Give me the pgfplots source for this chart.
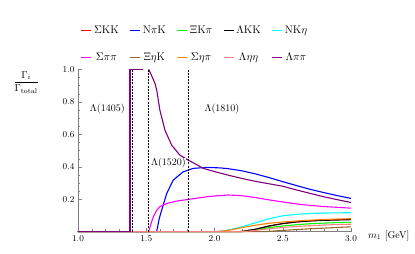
\documentclass[border=0pt]{standalone}
\usepackage{pgfplots}
\pgfplotsset{compat=1.18}
\definecolor{mgreen}{rgb}{0,1,0}
\definecolor{mbrown}{rgb}{0.6,0.4,0.2}
\definecolor{morange}{rgb}{1,0.5,0}
\definecolor{mpink}{rgb}{1,0.5,0.5}
\definecolor{mpurple}{rgb}{0.5,0,0.5}
\definecolor{mcyan}{rgb}{0,1,1}
\definecolor{mmagenta}{rgb}{1,0,1}
\definecolor{mred}{rgb}{1,0,0}
\definecolor{mblue}{rgb}{0,0,1}
\begin{document}
\begin{tikzpicture}
\path[use as bounding box] (0,0) rectangle (415pt,254pt);
\begin{axis}[
  at={(78pt,22.3pt)}, anchor=south west,
  scale only axis, width=273pt, height=162.4pt,
  xmin=1, xmax=3, ymin=0, ymax=1,
  clip=false,
  axis lines=left,
  axis line style={-, gray},
  tick align=inside,
  major tick length=4pt, minor tick length=2.5pt,
  tick style={gray},
  xtick={1,1.5,2,2.5,3}, ytick={0.2,0.4,0.6,0.8,1.0},
  minor x tick num=4, minor y tick num=3,
  xticklabel style={/pgf/number format/fixed,/pgf/number format/fixed zerofill,/pgf/number format/precision=1},
  yticklabel style={/pgf/number format/fixed,/pgf/number format/fixed zerofill,/pgf/number format/precision=1},
  ticklabel style={font=\small},
  xlabel={$m_1$ [GeV]},
  every axis x label/.style={at={(axis description cs:1.05,0)}, anchor=west, yshift=-4pt},
  ylabel={$\displaystyle\frac{\Gamma_i}{\Gamma_{\mathrm{total}}}$},
  every axis y label/.style={at={(axis description cs:-0.19,0.92)}, anchor=center},
  legend columns=5,
  legend style={at={(axis description cs:0.01,1.03)}, anchor=south west, draw=none,
     inner sep=0pt, row sep=14pt, /tikz/every even column/.append style={column sep=9pt},
     font=\fontsize{11}{13}\selectfont},
]
\addlegendimage{color=mred, line width=1.1pt, legend image code/.code={\draw[color=mred, line width=1.1pt] (0pt,0pt) -- (10pt,0pt);}}\addlegendentry{$\Sigma$KK}
\addlegendimage{color=mblue, line width=1.1pt, legend image code/.code={\draw[color=mblue, line width=1.1pt] (0pt,0pt) -- (10pt,0pt);}}\addlegendentry{N$\pi$K}
\addlegendimage{color=mgreen, line width=1.1pt, legend image code/.code={\draw[color=mgreen, line width=1.1pt] (0pt,0pt) -- (10pt,0pt);}}\addlegendentry{$\Xi$K$\pi$}
\addlegendimage{color=black, line width=1.1pt, legend image code/.code={\draw[color=black, line width=1.1pt] (0pt,0pt) -- (10pt,0pt);}}\addlegendentry{$\Lambda$KK}
\addlegendimage{color=mcyan, line width=1.1pt, legend image code/.code={\draw[color=mcyan, line width=1.1pt] (0pt,0pt) -- (10pt,0pt);}}\addlegendentry{NK$\eta$}
\addlegendimage{color=mmagenta, line width=1.1pt, legend image code/.code={\draw[color=mmagenta, line width=1.1pt] (0pt,0pt) -- (10pt,0pt);}}\addlegendentry{$\Sigma\pi\pi$}
\addlegendimage{color=mbrown, line width=1.1pt, legend image code/.code={\draw[color=mbrown, line width=1.1pt] (0pt,0pt) -- (10pt,0pt);}}\addlegendentry{$\Xi\eta$K}
\addlegendimage{color=morange, line width=1.1pt, legend image code/.code={\draw[color=morange, line width=1.1pt] (0pt,0pt) -- (10pt,0pt);}}\addlegendentry{$\Sigma\eta\pi$}
\addlegendimage{color=mpink, line width=1.1pt, legend image code/.code={\draw[color=mpink, line width=1.1pt] (0pt,0pt) -- (10pt,0pt);}}\addlegendentry{$\Lambda\eta\eta$}
\addlegendimage{color=mpurple, line width=1.1pt, legend image code/.code={\draw[color=mpurple, line width=1.1pt] (0pt,0pt) -- (10pt,0pt);}}\addlegendentry{$\Lambda\pi\pi$}
% Sigma K K
\addplot[forget plot, color=mred, line width=1.1pt] coordinates {(1.0,0) (2.18,0) (2.3,0.015) (2.4,0.035) (2.5,0.05) (2.6,0.06) (2.7,0.067) (2.8,0.071) (2.9,0.074) (3.0,0.076)};
% N pi K
\addplot[forget plot, color=mblue, line width=1.1pt] coordinates {(1.0,0) (1.576,0) (1.595,0.08) (1.613,0.133) (1.65,0.236) (1.698,0.318) (1.771,0.369) (1.845,0.39) (1.943,0.396) (2.04,0.393) (2.1,0.388) (2.2,0.375) (2.3,0.356) (2.4,0.333) (2.5,0.308) (2.6,0.284) (2.7,0.261) (2.8,0.241) (2.9,0.222) (3.0,0.205)};
% Xi K pi
\addplot[forget plot, color=mgreen, line width=1.1pt] coordinates {(1.0,0) (2.18,0) (2.3,0.012) (2.4,0.025) (2.5,0.035) (2.6,0.043) (2.7,0.049) (2.8,0.053) (2.9,0.056) (3.0,0.058)};
% Lambda K K
\addplot[forget plot, color=black, line width=1.1pt] coordinates {(1.0,0) (2.2,0) (2.3,0.015) (2.4,0.035) (2.5,0.05) (2.6,0.06) (2.7,0.066) (2.8,0.07) (2.9,0.072) (3.0,0.074)};
% N K eta
\addplot[forget plot, color=mcyan, line width=1.1pt] coordinates {(1.0,0) (2.0,0) (2.05,0.003) (2.1,0.01) (2.2,0.03) (2.3,0.055) (2.4,0.08) (2.5,0.098) (2.6,0.107) (2.7,0.112) (2.8,0.115) (2.9,0.116) (3.0,0.117)};
% Sigma pi pi
\addplot[forget plot, color=mmagenta, line width=1.1pt] coordinates {(1.0,0) (1.518,0) (1.535,0.05) (1.552,0.092) (1.575,0.13) (1.60,0.154) (1.65,0.174) (1.72,0.188) (1.808,0.199) (1.943,0.215) (2.0,0.22) (2.1,0.226) (2.2,0.222) (2.3,0.21) (2.4,0.196) (2.5,0.183) (2.6,0.171) (2.7,0.162) (2.8,0.155) (2.9,0.15) (3.0,0.145)};
% Xi eta K
\addplot[forget plot, color=mbrown, line width=1.1pt] coordinates {(1.0,0) (2.36,0) (2.5,0.008) (2.6,0.013) (2.7,0.018) (2.8,0.022) (2.9,0.026) (3.0,0.03)};
% Sigma eta pi
\addplot[forget plot, color=morange, line width=1.1pt] coordinates {(1.0,0) (2.0,0) (2.1,0.008) (2.2,0.025) (2.3,0.04) (2.4,0.052) (2.5,0.06) (2.6,0.066) (2.7,0.071) (2.8,0.075) (2.9,0.078) (3.0,0.08)};
% Lambda eta eta
\addplot[forget plot, color=mpink, line width=1.1pt] coordinates {(1.0,0) (2.21,0) (2.3,0.008) (2.4,0.018) (2.5,0.026) (2.6,0.032) (2.7,0.037) (2.8,0.041) (2.9,0.044) (3.0,0.046)};
% Lambda pi pi
\addplot[forget plot, color=mpurple, line width=1.1pt] coordinates {(1.0,0) (1.381,0) (1.381,1.0) (1.475,1.0)};
\addplot[forget plot, color=mpurple, line width=1.1pt] coordinates {(1.518,1.0) (1.545,0.95) (1.565,0.91) (1.577,0.871) (1.60,0.748) (1.637,0.625) (1.686,0.533) (1.747,0.471) (1.808,0.441) (1.918,0.39) (2.0,0.37) (2.101,0.348) (2.2,0.328) (2.3,0.31) (2.4,0.295) (2.5,0.28) (2.6,0.257) (2.7,0.236) (2.8,0.215) (2.9,0.197) (3.0,0.18)};
% dashed resonance lines
\addplot[forget plot, color=black, line width=1.2pt, dash pattern=on 2pt off 1.2pt] coordinates {(1.40,0) (1.40,1)};
\addplot[forget plot, color=black, line width=1.2pt, dash pattern=on 2pt off 1.2pt] coordinates {(1.515,0) (1.515,1)};
\addplot[forget plot, color=black, line width=1.2pt, dash pattern=on 2pt off 1.2pt] coordinates {(1.808,0) (1.808,1)};
\node at (axis cs:1.215,0.755) {$\Lambda$(1405)};
\node[fill=white, inner sep=0.5pt] at (axis cs:1.663,0.42) {$\Lambda$(1520)};
\node at (axis cs:2.055,0.755) {$\Lambda$(1810)};
\end{axis}
\end{tikzpicture}
\end{document}
